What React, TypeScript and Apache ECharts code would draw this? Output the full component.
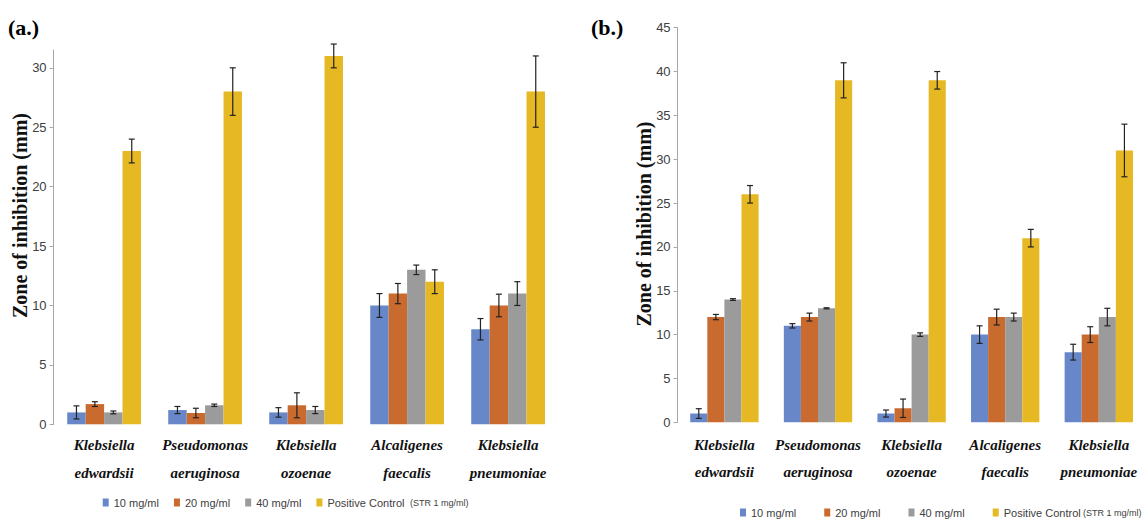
import React, { useEffect, useRef } from "react";
import * as echarts from "echarts";

const categories = [
  "Klebsiella\nedwardsii",
  "Pseudomonas\naeruginosa",
  "Klebsiella\nozoenae",
  "Alcaligenes\nfaecalis",
  "Klebsiella\npneumoniae",
];
const seriesNames = ["10 mg/ml", "20 mg/ml", "40 mg/ml", "Positive Control"];
const seriesColors = ["#6787c9", "#c96a2f", "#9b9b9b", "#e5b824"];

// Panel (a)
const a10 = [1, 1.2, 1, 10, 8];
const a20 = [1.7, 0.95, 1.6, 11, 10];
const a40 = [1, 1.6, 1.2, 13, 11];
const aPos = [23, 28, 31, 12, 28];
const a10Err = [0.55, 0.3, 0.4, 1, 0.9];
const a20Err = [0.2, 0.4, 1.05, 0.85, 0.95];
const a40Err = [0.12, 0.1, 0.3, 0.4, 1];
const aPosErr = [1, 2, 1, 1, 3];
const aTicks = [0, 5, 10, 15, 20, 25, 30];

// Panel (b)
const b10 = [1, 11, 1, 10, 8];
const b20 = [12, 12, 1.6, 12, 10];
const b40 = [14, 13, 10, 12, 12];
const bPos = [26, 39, 39, 21, 31];
const b10Err = [0.55, 0.25, 0.4, 1, 0.9];
const b20Err = [0.3, 0.45, 1.05, 0.9, 0.9];
const b40Err = [0.1, 0.06, 0.2, 0.45, 1];
const bPosErr = [1, 2, 1, 1, 3];
const bTicks = [0, 5, 10, 15, 20, 25, 30, 35, 40, 45];

const GAP = 0.27;
const SANS = "'Liberation Sans', Arial, sans-serif";
const SERIF = "'Liberation Serif', 'DejaVu Serif', serif";

function errSeries(idx: number, axis: number, vals: number[], errs: number[]) {
  return {
    type: "custom",
    name: "err" + axis + "_" + idx,
    xAxisIndex: axis,
    yAxisIndex: axis,
    clip: false,
    silent: true,
    z: 10,
    data: vals.map((v, i) => [i, v, errs[i]]),
    renderItem: (params: any, api: any) => {
      const x = api.value(0);
      const v = api.value(1);
      const e = api.value(2);
      const band = api.size([1, 0])[0];
      const bw = (band * (1 - GAP)) / 4;
      const c = api.coord([x, v]);
      const cx = c[0] + (idx - 1.5) * bw;
      const top = api.coord([x, v + e])[1];
      const bot = api.coord([x, Math.max(v - e, 0)])[1];
      const st = { stroke: "#222", lineWidth: 1.2 };
      return {
        type: "group",
        children: [
          { type: "line", shape: { x1: cx, y1: top, x2: cx, y2: bot }, style: st },
          { type: "line", shape: { x1: cx - 3, y1: top, x2: cx + 3, y2: top }, style: st },
          { type: "line", shape: { x1: cx - 3, y1: bot, x2: cx + 3, y2: bot }, style: st },
        ],
      };
    },
  };
}

function barSeries(idx: number, axis: number, vals: number[]) {
  return {
    type: "bar",
    name: seriesNames[idx],
    xAxisIndex: axis,
    yAxisIndex: axis,
    data: vals,
    barGap: "0%",
    barCategoryGap: GAP * 100 + "%",
    itemStyle: { color: seriesColors[idx] },
  };
}

export default function App() {
  const ref = useRef<HTMLDivElement>(null);
  useEffect(() => {
    if (!ref.current) return;
    const chart = echarts.init(ref.current, undefined, { renderer: "svg" });
    const xAxisCommon = {
      type: "category",
      data: categories,
      axisLine: { show: false },
      axisTick: { show: false },
      axisLabel: {
        interval: 0,
        fontFamily: SERIF,
        fontStyle: "italic",
        fontWeight: "bold",
        fontSize: 15,
        color: "#111",
      },
    };
    const yAxisCommon = {
      type: "value",
      min: 0,
      splitLine: { show: false },
      axisLine: { show: true, lineStyle: { color: "#a6a6a6", width: 1 } },
      axisTick: { show: true, length: 4, lineStyle: { color: "#a6a6a6" } },
      axisLabel: { fontFamily: SANS, fontSize: 13, color: "#404040", margin: 7 },
    };
    const legendCommon = {
      data: seriesNames,
      orient: "horizontal",
      padding: 0,
      itemWidth: 6,
      itemHeight: 8,
      icon: "rect",
      textStyle: { fontFamily: SANS, fontSize: 11, color: "#404040" },
      selectedMode: false,
    };
    const series: any[] = [];
    const aVals = [a10, a20, a40, aPos];
    const aErrs = [a10Err, a20Err, a40Err, aPosErr];
    const bVals = [b10, b20, b40, bPos];
    const bErrs = [b10Err, b20Err, b40Err, bPosErr];
    for (let i = 0; i < 4; i++) series.push(barSeries(i, 0, aVals[i]));
    for (let i = 0; i < 4; i++) series.push(barSeries(i, 1, bVals[i]));
    for (let i = 0; i < 4; i++) series.push(errSeries(i, 0, aVals[i], aErrs[i]));
    for (let i = 0; i < 4; i++) series.push(errSeries(i, 1, bVals[i], bErrs[i]));

    chart.setOption({
      animation: false,
      backgroundColor: "#fff",
      grid: [
        { left: 53.6, top: 50, width: 505, height: 374.3, outerBoundsMode: "none", containLabel: false },
        { left: 677.6, top: 27.7, width: 468, height: 394.6, outerBoundsMode: "none", containLabel: false },
      ],
      xAxis: [
        { ...xAxisCommon, gridIndex: 0, axisLabel: { ...xAxisCommon.axisLabel, lineHeight: 28, margin: 7 } },
        { ...xAxisCommon, gridIndex: 1, axisLabel: { ...xAxisCommon.axisLabel, lineHeight: 27, margin: 9 } },
      ],
      yAxis: [
        {
          ...yAxisCommon,
          gridIndex: 0,
          max: 31.5,
          axisTick: { ...yAxisCommon.axisTick, customValues: aTicks },
          axisLabel: { ...yAxisCommon.axisLabel, customValues: aTicks },
        },
        {
          ...yAxisCommon,
          gridIndex: 1,
          max: 45,
          axisTick: { ...yAxisCommon.axisTick, customValues: bTicks },
          axisLabel: { ...yAxisCommon.axisLabel, customValues: bTicks },
        },
      ],
      legend: [
        { ...legendCommon, left: 102.7, top: 497, itemGap: 15 },
        { ...legendCommon, left: 740, top: 507, itemGap: 28 },
      ],
      graphic: [
        {
          type: "text",
          x: 8,
          y: 27,
          style: { text: "(a.)", font: "bold 22px " + SERIF, fill: "#000", verticalAlign: "middle" },
        },
        {
          type: "text",
          x: 591,
          y: 27,
          style: { text: "(b.)", font: "bold 22px " + SERIF, fill: "#000", verticalAlign: "middle" },
        },
        {
          type: "text",
          x: 20,
          y: 215.5,
          rotation: Math.PI / 2,
          style: {
            text: "Zone of inhibition (mm)",
            font: "bold 20px " + SERIF,
            fill: "#111",
            align: "center",
            verticalAlign: "middle",
          },
        },
        {
          type: "text",
          x: 644,
          y: 224,
          rotation: Math.PI / 2,
          style: {
            text: "Zone of inhibition (mm)",
            font: "bold 20px " + SERIF,
            fill: "#111",
            align: "center",
            verticalAlign: "middle",
          },
        },
        {
          type: "text",
          x: 410,
          y: 503,
          style: { text: "(STR 1 mg/ml)", font: "9px " + SANS, fill: "#404040", verticalAlign: "middle" },
        },
        {
          type: "text",
          x: 1083,
          y: 513,
          style: { text: "(STR 1 mg/ml)", font: "9px " + SANS, fill: "#404040", verticalAlign: "middle" },
        },
      ],
      series,
    });
    return () => chart.dispose();
  }, []);
  return (
    <div
      ref={ref}
      style={{ position: "fixed", left: 0, top: 0, width: 1143, height: 519 }}
    />
  );
}
